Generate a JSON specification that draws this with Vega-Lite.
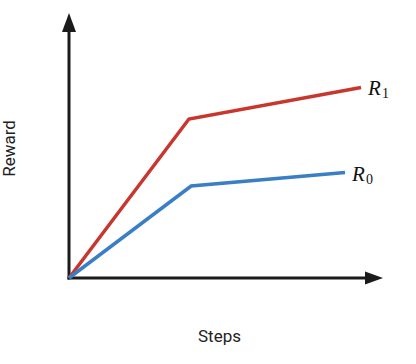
{
  "$schema": "https://vega.github.io/schema/vega-lite/v6.json",
  "width": 314,
  "height": 265,
  "autosize": "none",
  "padding": {"left": 69, "top": 13, "right": 33, "bottom": 86},
  "background": "white",
  "config": {"view": {"stroke": null}},
  "datasets": {
    "curves": [
      {"series": "R1", "step": 0, "reward": 0},
      {"series": "R1", "step": 38.2, "reward": 60.0},
      {"series": "R1", "step": 93.0, "reward": 71.9},
      {"series": "R0", "step": 0, "reward": 0},
      {"series": "R0", "step": 38.9, "reward": 34.7},
      {"series": "R0", "step": 87.9, "reward": 39.8}
    ],
    "axeslines": [
      {"name": "y", "step": 0, "reward": 0, "step2": 0, "reward2": 95},
      {"name": "x", "step": 0, "reward": 0, "step2": 95, "reward2": 0}
    ],
    "arrows": [
      {"name": "y", "step": 0, "reward": 100},
      {"name": "x", "step": 100, "reward": 0}
    ],
    "labels": [
      {"series": "R1", "step": 93.0, "reward": 71.9, "main": "R", "sub": "1"},
      {"series": "R0", "step": 87.9, "reward": 39.8, "main": "R", "sub": "0"}
    ]
  },
  "layer": [
    {
      "data": {"name": "axeslines"},
      "mark": {"type": "rule", "color": "#1b1b1b", "strokeWidth": 3, "strokeCap": "square"},
      "encoding": {
        "x": {"field": "step", "type": "quantitative", "scale": {"domain": [0, 100], "nice": false, "zero": false},
          "axis": {"title": "Steps", "domain": false, "ticks": false, "labels": false, "grid": false,
            "titleFont": "Roboto", "titleFontSize": 17, "titleFontWeight": "normal", "titleColor": "#222222",
            "titleX": 150, "titleY": 63, "titleBaseline": "alphabetic", "titleAlign": "center"}},
        "x2": {"field": "step2"},
        "y": {"field": "reward", "type": "quantitative", "scale": {"domain": [0, 100], "nice": false, "zero": false},
          "axis": {"title": "Reward", "domain": false, "ticks": false, "labels": false, "grid": false,
            "titleFont": "Roboto", "titleFontSize": 17, "titleFontWeight": "normal", "titleColor": "#222222",
            "titleX": -60, "titleY": 135, "titleAngle": -90, "titleBaseline": "middle", "titleAlign": "center"}},
        "y2": {"field": "reward2"}
      }
    },
    {
      "data": {"name": "arrows"},
      "transform": [{"filter": "datum.name === 'y'"}],
      "mark": {"type": "point", "filled": true, "color": "#1b1b1b", "opacity": 1, "size": 400,
        "shape": "M0,0L-0.7,1.9L0.7,1.9Z"},
      "encoding": {
        "x": {"field": "step", "type": "quantitative"},
        "y": {"field": "reward", "type": "quantitative"}
      }
    },
    {
      "data": {"name": "arrows"},
      "transform": [{"filter": "datum.name === 'x'"}],
      "mark": {"type": "point", "filled": true, "color": "#1b1b1b", "opacity": 1, "size": 400,
        "shape": "M0,0L-1.8,-0.65L-1.8,0.65Z"},
      "encoding": {
        "x": {"field": "step", "type": "quantitative"},
        "y": {"field": "reward", "type": "quantitative"}
      }
    },
    {
      "data": {"name": "curves"},
      "mark": {"type": "line", "strokeWidth": 3.5, "strokeJoin": "miter"},
      "encoding": {
        "x": {"field": "step", "type": "quantitative"},
        "y": {"field": "reward", "type": "quantitative"},
        "color": {"field": "series", "type": "nominal",
          "scale": {"domain": ["R1", "R0"], "range": ["#c8372d", "#3a7ec3"]}, "legend": null}
      }
    },
    {
      "data": {"name": "labels"},
      "mark": {"type": "text", "font": "Liberation Serif", "fontStyle": "italic", "fontSize": 21,
        "align": "left", "baseline": "alphabetic", "dx": 7, "dy": 8, "color": "#111111"},
      "encoding": {
        "x": {"field": "step", "type": "quantitative"},
        "y": {"field": "reward", "type": "quantitative"},
        "text": {"field": "main"}
      }
    },
    {
      "data": {"name": "labels"},
      "mark": {"type": "text", "font": "Liberation Serif", "fontSize": 14,
        "align": "left", "baseline": "alphabetic", "dx": 21, "dy": 11, "color": "#111111"},
      "encoding": {
        "x": {"field": "step", "type": "quantitative"},
        "y": {"field": "reward", "type": "quantitative"},
        "text": {"field": "sub"}
      }
    }
  ]
}
